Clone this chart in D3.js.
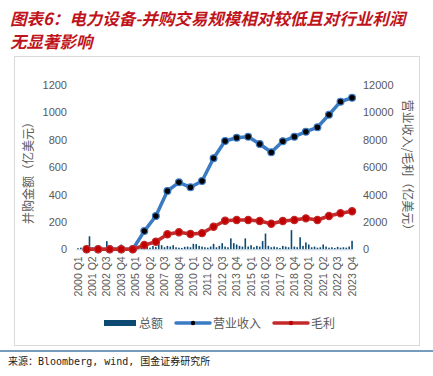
<!DOCTYPE html>
<html>
<head>
<meta charset="utf-8">
<script src="https://cdnjs.cloudflare.com/ajax/libs/d3/7.8.5/d3.min.js"></script>
<style>
  body { margin: 0; background: #fff; }
  svg { display: block; }
</style>
</head>
<body>
<div class="chart"></div>
<script>
"use strict";

// quarterly M&A totals (100m USD), 2000 Q1 .. 2023 Q4
var years = d3.range(2000, 2024);
var quarters = [];
years.forEach(function(y) { for (var q = 1; q <= 4; q++) quarters.push(y + " Q" + q); });

var dealTotal = [
    8, 12, 5, 10,      95, 15, 8, 12,     10, 6, 60, 10,     8, 12, 20, 35,
    15, 8, 10, 6,      12, 15, 10, 18,    20, 12, 25, 18,    65, 30, 15, 25,
    20, 30, 15, 12,    10, 18, 20, 15,    40, 38, 25, 20,    15, 12, 20, 40,
    15, 25, 45, 20,    15, 80, 45, 35,    25, 20, 80, 20,    30, 15, 25, 20,
    60, 115, 25, 15,   20, 15, 10, 25,    20, 15, 140, 20,   15, 88, 25, 50,
    35, 15, 20, 12,    15, 35, 20, 12,    15, 10, 18, 12,    15, 12, 20, 62
];

// annual revenue and gross profit (100m USD), plotted at Q4 of each year
var revenue = [0, 0, 0, 0, 0, 1330, 2430, 4260, 4890, 4530, 4990, 6650,
               7910, 8150, 8225, 7690, 7085, 7890, 8225, 8590, 8910, 9830, 10780, 11070];
var grossProfit = [0, 0, 0, 0, 0, 310, 555, 1095, 1240, 1120, 1180, 1650,
                   2090, 2140, 2140, 2070, 1870, 2070, 2140, 2260, 2140, 2430, 2630, 2775];

var leftTicks = [0, 200, 400, 600, 800, 1000, 1200];
var rightTicks = [0, 2000, 4000, 6000, 8000, 10000, 12000];

var seriesNames = ["总额", "营业收入", "毛利"];
var titleLines = ["图表6：电力设备-并购交易规模相对较低且对行业利润", "无显著影响"];
var sourceText = "来源：Bloomberg, wind, 国金证券研究所";

var W = 433, H = 376;
var plot = { left: 76.5, right: 353.5, top: 85, bottom: 249.3 };

var barColor = "#0d4a72";
var revColor = "#3a7bc4";
var gpColor = "#c42a2a";
var textGray = "#595959";
var cjk = "'Noto Sans CJK SC', 'Noto Sans', sans-serif";

var svg = d3.select(".chart").append("svg")
    .attr("width", W)
    .attr("height", H);

// title
svg.selectAll(".title")
    .data(titleLines)
    .enter()
    .append("text")
    .attr("class", "title")
    .attr("x", 10)
    .attr("y", function(d, i) { return 25 + i * 23; })
    .attr("font-family", cjk)
    .attr("font-size", "16.5px")
    .attr("font-weight", "bold")
    .attr("font-style", "italic")
    .attr("fill", "#c0141c")
    .text(function(d) { return d; });

// frame
svg.append("rect")
    .attr("x", 14.5).attr("y", 56.5)
    .attr("width", 405).attr("height", 289)
    .attr("fill", "none")
    .attr("stroke", "#d9d9d9");

// scales
var x = d3.scaleBand()
    .domain(quarters)
    .range([plot.left, plot.right]);

var yLeft = d3.scaleLinear().domain([0, 1200]).range([plot.bottom, plot.top]);
var yRight = d3.scaleLinear().domain([0, 12000]).range([plot.bottom, plot.top]);

var qCenter = function(q) { return x(q) + x.bandwidth() / 2; };

// bars
svg.append("g").selectAll(".bar")
    .data(quarters)
    .enter()
    .append("rect")
    .attr("class", "bar")
    .attr("x", function(d) { return qCenter(d) - 0.8; })
    .attr("y", function(d, i) { return yLeft(dealTotal[i]); })
    .attr("width", 1.6)
    .attr("height", function(d, i) { return plot.bottom - yLeft(dealTotal[i]); })
    .attr("fill", barColor);

// baseline
svg.append("line")
    .attr("x1", plot.left).attr("x2", plot.right)
    .attr("y1", plot.bottom + 0.5).attr("y2", plot.bottom + 0.5)
    .attr("stroke", "#b9cfe0")
    .attr("stroke-width", 1);

// lines at Q4 of each year
var q4 = years.map(function(y) { return y + " Q4"; });

function drawLine(values, color, dotFill, r)
{
    var line = d3.line()
        .x(function(d, i) { return qCenter(q4[i]); })
        .y(function(d) { return yRight(d); });

    svg.append("path")
        .datum(values)
        .attr("d", line)
        .attr("fill", "none")
        .attr("stroke", color)
        .attr("stroke-width", 3.5)
        .attr("stroke-linejoin", "round");

    svg.append("g").selectAll("circle")
        .data(values)
        .enter()
        .append("circle")
        .attr("cx", function(d, i) { return qCenter(q4[i]); })
        .attr("cy", function(d) { return yRight(d); })
        .attr("r", r)
        .attr("fill", dotFill)
        .attr("stroke", color)
        .attr("stroke-width", 1.2);
}

drawLine(revenue, revColor, "#000", 3.4);
drawLine(grossProfit, gpColor, "#c00000", 3.6);

// axes
var leftAxis = d3.axisLeft(yLeft).tickValues(leftTicks).tickFormat(d3.format("d")).tickSize(0).tickPadding(0);
var rightAxis = d3.axisRight(yRight).tickValues(rightTicks).tickFormat(d3.format("d")).tickSize(0).tickPadding(0);

var gL = svg.append("g")
    .attr("transform", "translate(67," + 0 + ")")
    .call(leftAxis);
var gR = svg.append("g")
    .attr("transform", "translate(363," + 0 + ")")
    .call(rightAxis);

[gL, gR].forEach(function(g)
{
    g.select(".domain").remove();
    g.selectAll("text")
        .attr("font-family", "'Liberation Sans', Arial, sans-serif")
        .attr("font-size", "11px")
        .attr("fill", textGray);
});

// x labels, every 5 quarters
var xLabels = quarters.filter(function(d, i) { return i % 5 === 0; });

var gX = svg.append("g")
    .attr("transform", "translate(0," + (plot.bottom + 7) + ")")
    .call(d3.axisBottom(x).tickValues(xLabels).tickSize(0).tickPadding(0));

gX.select(".domain").remove();
gX.selectAll("text")
    .attr("transform", "rotate(-90)")
    .attr("text-anchor", "end")
    .attr("dy", "0.35em")
    .attr("x", 0)
    .attr("y", 0)
    .attr("font-family", "'Liberation Sans', Arial, sans-serif")
    .attr("font-size", "10.5px")
    .attr("fill", textGray);

// axis titles
svg.append("text")
    .attr("transform", "translate(33,170) rotate(-90)")
    .attr("text-anchor", "middle")
    .attr("font-family", cjk)
    .attr("font-size", "12px")
    .attr("fill", textGray)
    .text("并购金额（亿美元）");

svg.append("text")
    .attr("transform", "translate(403,168) rotate(90)")
    .attr("text-anchor", "middle")
    .attr("font-family", cjk)
    .attr("font-size", "12px")
    .attr("fill", textGray)
    .text("营业收入/毛利（亿美元）");

// legend
var legend = svg.append("g").attr("class", "legend");

legend.append("rect")
    .attr("x", 104).attr("y", 320)
    .attr("width", 32).attr("height", 6)
    .attr("fill", barColor);

var legendLines = [
    { x: 176, color: revColor, dot: "#000" },
    { x: 274, color: gpColor, dot: "#c00000" }
];

legendLines.forEach(function(l)
{
    legend.append("line")
        .attr("x1", l.x).attr("x2", l.x + 34)
        .attr("y1", 323).attr("y2", 323)
        .attr("stroke", l.color)
        .attr("stroke-width", 3.5)
        .attr("stroke-linecap", "round");
    legend.append("circle")
        .attr("cx", l.x + 17).attr("cy", 323)
        .attr("r", 2.2)
        .attr("fill", l.dot);
});

legend.selectAll(".ltext")
    .data(seriesNames)
    .enter()
    .append("text")
    .attr("class", "ltext")
    .attr("x", function(d, i) { return [139, 213, 311][i]; })
    .attr("y", 327.5)
    .attr("font-family", cjk)
    .attr("font-size", "12px")
    .attr("fill", textGray)
    .text(function(d) { return d; });

// bottom rule and source
svg.append("line")
    .attr("x1", 0).attr("x2", W)
    .attr("y1", 351).attr("y2", 351)
    .attr("stroke", "#4a7aa8")
    .attr("stroke-width", 1.5);

svg.append("text")
    .attr("x", 8)
    .attr("y", 365)
    .attr("font-family", "'DejaVu Sans Mono', 'Noto Sans CJK SC', monospace")
    .attr("font-size", "10px")
    .attr("fill", "#222")
    .text(sourceText);
</script>
</body>
</html>
